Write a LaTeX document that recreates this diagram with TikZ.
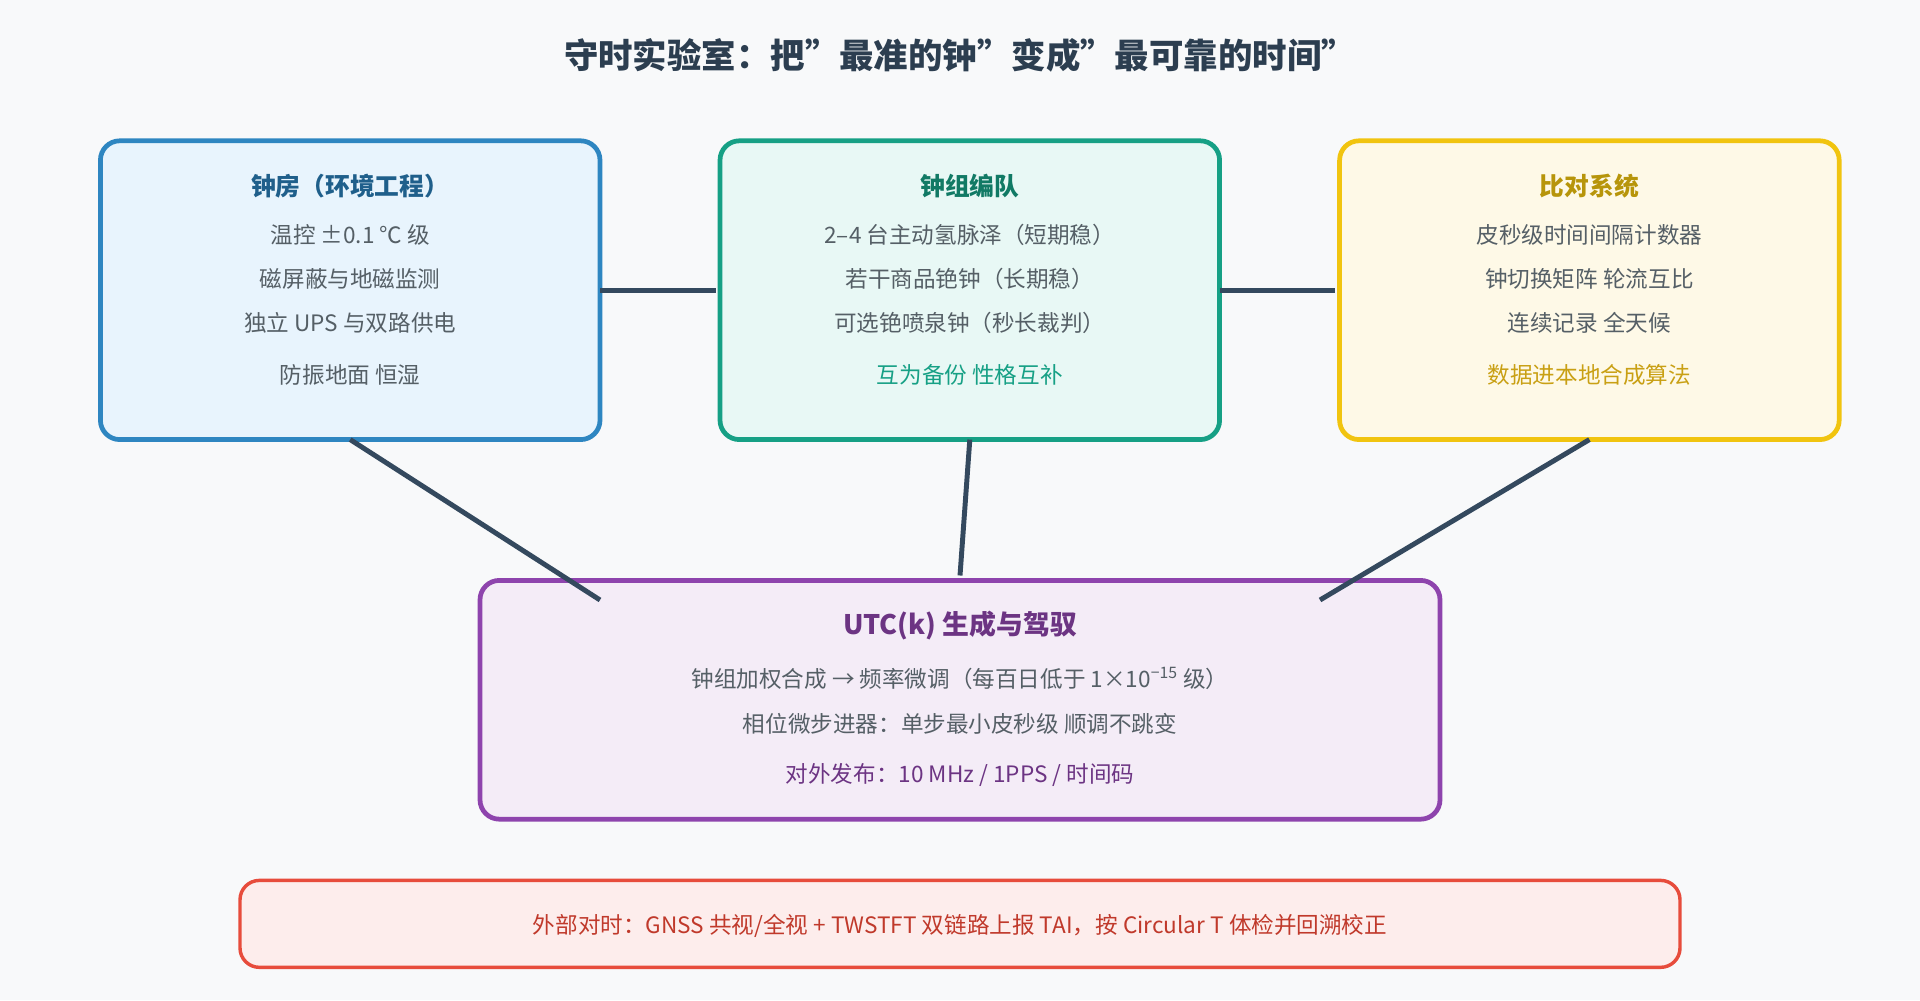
\documentclass[tikz,border=0pt]{standalone}
\usepackage{fontspec}
\setmainfont{Noto Sans CJK SC}
\begin{document}
\begin{tikzpicture}[x=0.02cm,y=-0.02cm,
  box/.style={draw,line width=2.2pt,rounded corners=9pt},
  ttl/.style={font=\fontsize{11.5}{14}\selectfont\bfseries},
  txt/.style={font=\fontsize{10.5}{13}\selectfont,text=body},
  conn/.style={draw=conn,line width=2.3pt}]
\definecolor{body}{HTML}{555F66}
\definecolor{conn}{HTML}{34495E}
\definecolor{bgc}{HTML}{F8F9FA}
\fill[bgc] (0,0) rectangle (1568,817);
\useasboundingbox (0,0) rectangle (1568,817);
\node[font=\fontsize{16}{19}\selectfont\bfseries,text={rgb,255:red,44;green,62;blue,80}] (title) at (784,45) {守时实验室：把"最准的钟"变成"最可靠的时间"};
% boxes
\draw[box,draw={rgb,255:red,46;green,134;blue,193},fill={rgb,255:red,232;green,244;blue,253}] (82,115) rectangle (490,359);
\draw[box,draw={rgb,255:red,22;green,160;blue,133},fill={rgb,255:red,232;green,248;blue,245}] (588,115) rectangle (996,359);
\draw[box,draw={rgb,255:red,241;green,196;blue,15},fill={rgb,255:red,254;green,249;blue,231}] (1094,115) rectangle (1502,359);
\draw[box,draw={rgb,255:red,142;green,68;blue,173},fill={rgb,255:red,244;green,236;blue,247}] (392,474) rectangle (1176,669);
\draw[box,line width=1.6pt,draw={rgb,255:red,231;green,76;blue,60},fill={rgb,255:red,253;green,237;blue,236}] (196,719) rectangle (1372,790);
% box1
\node[ttl,text={rgb,255:red,31;green,95;blue,139}] (a0) at (286,152) {钟房（环境工程）};
\node[txt] (a1) at (286,192) {温控 ±0.1 ℃ 级};
\node[txt] (a2) at (286,228) {磁屏蔽与地磁监测};
\node[txt] (a3) at (286,264) {独立 UPS 与双路供电};
\node[txt] (a4) at (286,306) {防振地面 恒湿};
% box2
\node[ttl,text={rgb,255:red,17;green,122;blue,101}] (b0) at (792,152) {钟组编队};
\node[txt] (b1) at (792,192) {2–4 台主动氢脉泽（短期稳）};
\node[txt] (b2) at (792,228) {若干商品铯钟（长期稳）};
\node[txt] (b3) at (792,264) {可选铯喷泉钟（秒长裁判）};
\node[txt,text={rgb,255:red,22;green,160;blue,133}] (b4) at (792,306) {互为备份 性格互补};
% box3
\node[ttl,text={rgb,255:red,183;green,149;blue,11}] (c0) at (1298,152) {比对系统};
\node[txt] (c1) at (1298,192) {皮秒级时间间隔计数器};
\node[txt] (c2) at (1298,228) {钟切换矩阵 轮流互比};
\node[txt] (c3) at (1298,264) {连续记录 全天候};
\node[txt,text={rgb,255:red,201;green,160;blue,20}] (c4) at (1298,306) {数据进本地合成算法};
% box4
\node[ttl,font=\fontsize{12.5}{15}\selectfont\bfseries,text={rgb,255:red,108;green,52;blue,131}] (d0) at (784,511) {UTC(k) 生成与驾驭};
\node[txt] (d1) at (784,554) {钟组加权合成 → 频率微调（每百日低于 1×10\textsuperscript{−15} 级）};
\node[txt] (d2) at (784,591) {相位微步进器：单步最小皮秒级 顺调不跳变};
\node[txt,text={rgb,255:red,108;green,52;blue,131}] (d3) at (784,633) {对外发布：10 MHz / 1PPS / 时间码};
% box5
\node[txt,text={rgb,255:red,192;green,57;blue,43}] (e0) at (784,756) {外部对时：GNSS 共视/全视 + TWSTFT 双链路上报 TAI，按 Circular T 体检并回溯校正};
% connectors
\coordinate (p1) at (490,237); \coordinate (p2) at (585,237);
\coordinate (p3) at (996,237); \coordinate (p4) at (1090,237);
\coordinate (q1) at (286,359); \coordinate (r1) at (490,490);
\coordinate (q2) at (792,359); \coordinate (r2) at (784,470);
\coordinate (q3) at (1298,359); \coordinate (r3) at (1078,490);
\draw[conn] (p1) -- (p2);
\draw[conn] (p3) -- (p4);
\draw[conn] (q1) -- (r1);
\draw[conn] (q2) -- (r2);
\draw[conn] (q3) -- (r3);
\end{tikzpicture}
\end{document}
